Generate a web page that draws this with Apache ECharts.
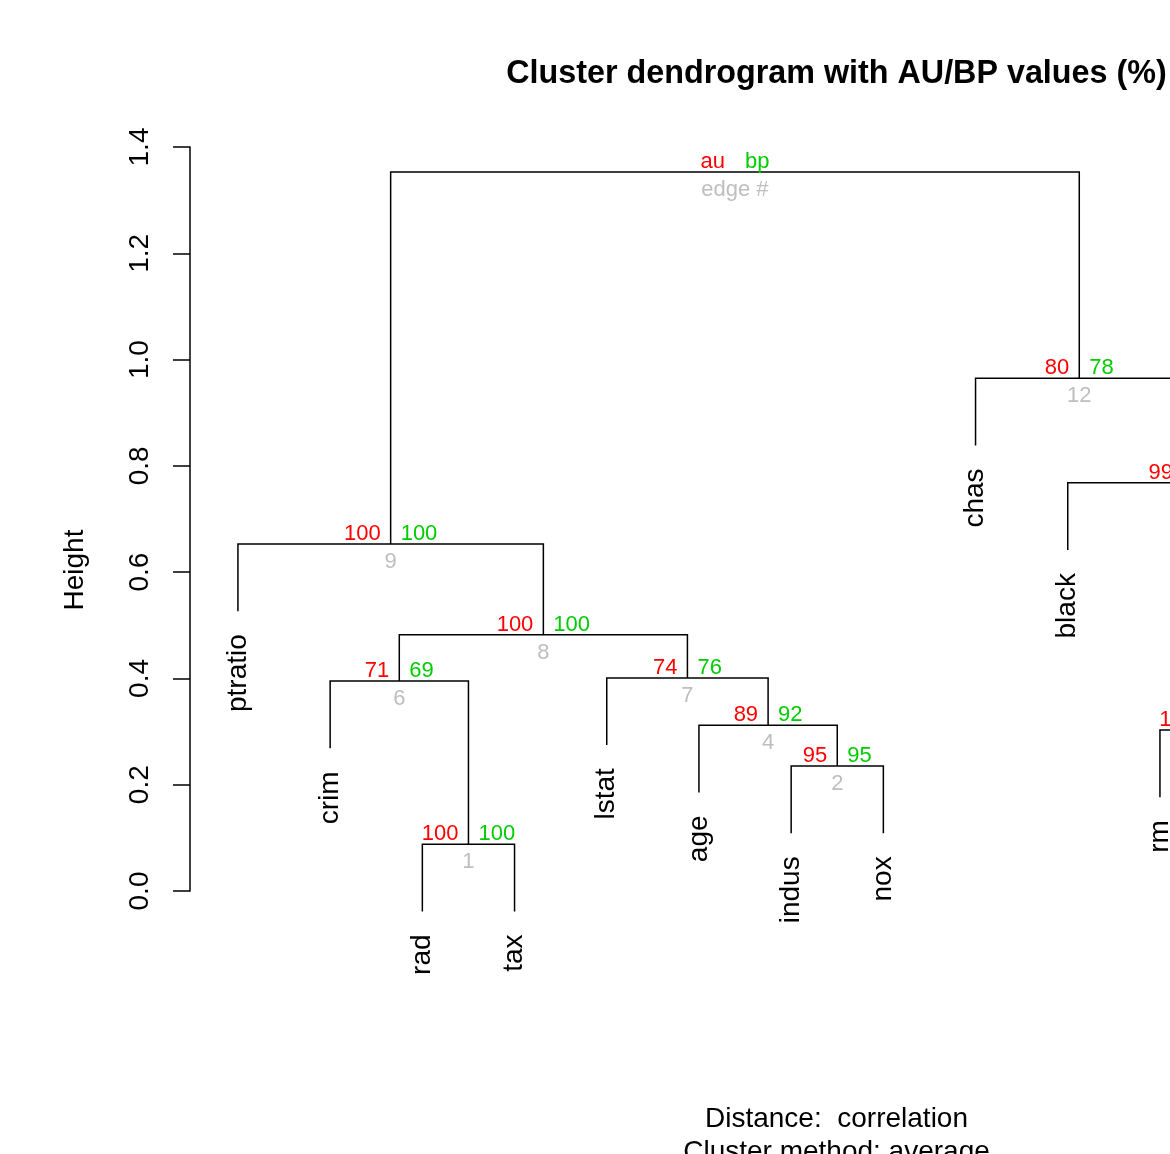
<!DOCTYPE html>
<html>
<head>
<meta charset="utf-8">
<script src="https://cdn.jsdelivr.net/npm/echarts@6/dist/echarts.min.js"></script>
<style>
  html, body { margin: 0; padding: 0; background: #fff; }
  #chart { width: 1170px; height: 1154px; }
</style>
</head>
<body>
<div id="chart"></div>
<script>
// leaves in plotting order
var leaves = ['ptratio', 'crim', 'rad', 'tax', 'lstat', 'age', 'indus', 'nox', 'chas', 'black', 'rm', 'medv', 'zn', 'dis']
// hclust style merges: negative = leaf position, positive = earlier merge row
var mergeLeft = [-3, -7, -11, -6, -13, -2, -5, 6, -1, 3, -10, -9, 9]
var mergeRight = [-4, -8, -12, 2, -14, 1, 4, 7, 8, 5, 10, 11, 12]
var mergeHeight = [0.088, 0.235, 0.303, 0.312, 0.36, 0.395, 0.401, 0.482, 0.653, 0.70, 0.768, 0.965, 1.353]
// au / bp values (%) and edge numbers, last one is the legend at the root
var auValues = ['100', '95', '100', '89', '100', '71', '74', '100', '100', '100', '99', '80', 'au']
var bpValues = ['100', '95', '100', '92', '100', '69', '76', '100', '100', '100', '100', '78', 'bp']
var edgeNums = ['1', '2', '3', '4', '5', '6', '7', '8', '9', '10', '11', '12', 'edge #']

var FONT = '"Liberation Sans", Arial, Helvetica, sans-serif'

// hang of leaves = 0.1 * range of merge heights (like plot.hclust)
var hang = 0.1 * (Math.max.apply(null, mergeHeight) - Math.min.apply(null, mergeHeight))

// x position of each merge and the bottom of each branch
var nodeX = []
var mergeData = []
var leafData = []
for (var i = 0; i < mergeHeight.length; i++) {
  var h = mergeHeight[i]
  var l = mergeLeft[i]
  var r = mergeRight[i]
  var xl = l < 0 ? -l : nodeX[l - 1]
  var xr = r < 0 ? -r : nodeX[r - 1]
  var yl = l < 0 ? h - hang : mergeHeight[l - 1]
  var yr = r < 0 ? h - hang : mergeHeight[r - 1]
  if (l < 0) leafData[-l - 1] = [-l, h - hang]
  if (r < 0) leafData[-r - 1] = [-r, h - hang]
  nodeX[i] = (xl + xr) / 2
  mergeData.push([xl, xr, h, yl, yr, nodeX[i]])
}

var chart = echarts.init(document.getElementById('chart'))

chart.setOption({
  backgroundColor: '#fff',
  animation: false,
  grid: {
    left: 190,
    top: 147,
    width: 1294.5,
    height: 744,
    containLabel: false,
    outerBoundsMode: 'none'
  },
  xAxis: {
    type: 'value',
    min: 0.48,
    max: 14.52,
    show: false
  },
  yAxis: {
    type: 'value',
    min: 0,
    max: 1.4,
    interval: 0.2,
    axisLine: { show: true, lineStyle: { color: '#000', width: 1.5 } },
    axisTick: { show: true, length: 17, lineStyle: { color: '#000', width: 1.5 } },
    axisLabel: {
      rotate: 90,
      margin: 36,
      fontFamily: FONT,
      fontSize: 28,
      color: '#000',
      showMinLabel: true,
      showMaxLabel: true,
      formatter: function(v) {
        return v.toFixed(1)
      }
    },
    splitLine: { show: false }
  },
  graphic: [
    {
      type: 'text',
      x: 836.5,
      y: 74,
      style: {
        text: 'Cluster dendrogram with AU/BP values (%)',
        font: 'bold 32.3px ' + FONT,
        fill: '#000',
        textAlign: 'center',
        textVerticalAlign: 'middle'
      }
    },
    {
      // y axis title, centred on the whole plot region as R does
      type: 'text',
      x: 75,
      y: 570,
      rotation: Math.PI / 2,
      style: {
        text: 'Height',
        font: '28px ' + FONT,
        fill: '#000',
        textAlign: 'center',
        textVerticalAlign: 'middle'
      }
    },
    {
      type: 'text',
      x: 836.5,
      y: 1119,
      style: {
        text: 'Distance:  correlation',
        font: '28px ' + FONT,
        fill: '#000',
        textAlign: 'center',
        textVerticalAlign: 'middle'
      }
    },
    {
      type: 'text',
      x: 836.5,
      y: 1152,
      style: {
        text: 'Cluster method: average',
        font: '28px ' + FONT,
        fill: '#000',
        textAlign: 'center',
        textVerticalAlign: 'middle'
      }
    }
  ],
  series: [
    {
      // branches with au / bp / edge labels
      type: 'custom',
      clip: false,
      data: mergeData,
      renderItem: function(params, api) {
        var idx = params.dataIndex
        var p1 = api.coord([api.value(0), api.value(3)])
        var p2 = api.coord([api.value(0), api.value(2)])
        var p3 = api.coord([api.value(1), api.value(2)])
        var p4 = api.coord([api.value(1), api.value(4)])
        var c = api.coord([api.value(5), api.value(2)])
        return {
          type: 'group',
          children: [
            {
              type: 'polyline',
              shape: { points: [p1, p2, p3, p4] },
              style: { stroke: '#000', lineWidth: 1.5, fill: null }
            },
            {
              type: 'text',
              x: c[0] - 10,
              y: c[1] - 10,
              style: {
                text: auValues[idx],
                font: '22px ' + FONT,
                fill: '#FF0000',
                textAlign: 'right',
                textVerticalAlign: 'middle'
              }
            },
            {
              type: 'text',
              x: c[0] + 10,
              y: c[1] - 10,
              style: {
                text: bpValues[idx],
                font: '22px ' + FONT,
                fill: '#00CD00',
                textAlign: 'left',
                textVerticalAlign: 'middle'
              }
            },
            {
              type: 'text',
              x: c[0],
              y: c[1] + 18,
              style: {
                text: edgeNums[idx],
                font: '22px ' + FONT,
                fill: '#BEBEBE',
                textAlign: 'center',
                textVerticalAlign: 'middle'
              }
            }
          ]
        }
      }
    },
    {
      // leaf labels
      type: 'custom',
      clip: false,
      data: leafData,
      renderItem: function(params, api) {
        var p = api.coord([api.value(0), api.value(1)])
        return {
          type: 'text',
          x: p[0],
          y: p[1] + 23,
          rotation: Math.PI / 2,
          style: {
            text: leaves[params.dataIndex],
            font: '28px ' + FONT,
            fill: '#000',
            textAlign: 'right',
            textVerticalAlign: 'middle'
          }
        }
      }
    }
  ]
})
</script>
</body>
</html>
